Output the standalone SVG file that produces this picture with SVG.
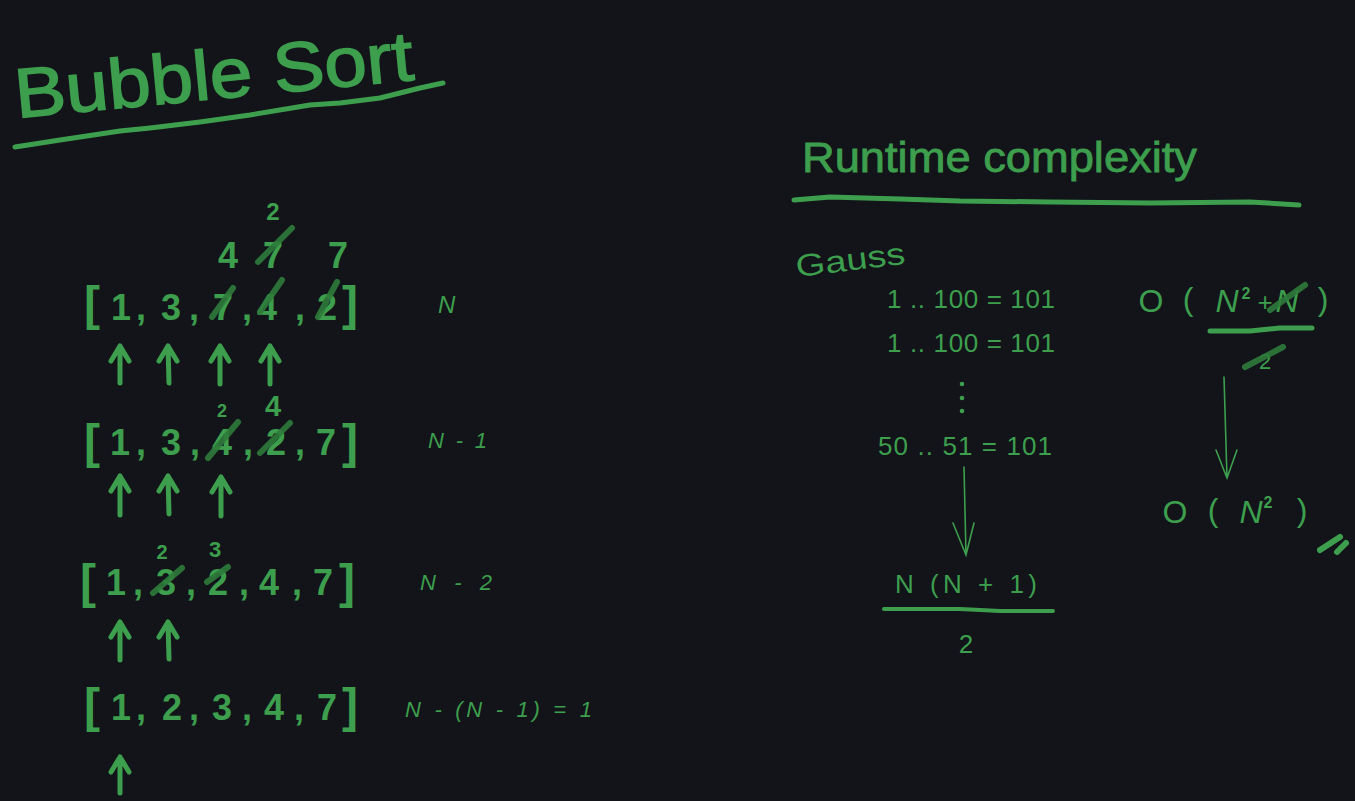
<svg xmlns="http://www.w3.org/2000/svg" width="1355" height="801" viewBox="0 0 1355 801">
<style>
.t{fill:#3d9f4d;font-family:"Liberation Sans",Arial,sans-serif}
.b{font-weight:bold}
.d{font-size:36px;font-weight:bold;text-anchor:middle}
.br{font-size:48px;font-weight:bold;text-anchor:middle}
.m{text-anchor:middle}
.s{stroke:#2d7a3b;stroke-width:6;stroke-linecap:round;fill:none;opacity:0.9}
.ln{stroke:#3d9f4d;fill:none;stroke-linecap:round;stroke-linejoin:round}
.ar{stroke:#3d9f4d;stroke-width:5;fill:none;stroke-linecap:round;stroke-linejoin:round}
.thin{stroke:#3d9f4d;stroke-width:1.6;fill:none;stroke-linecap:round}
</style>
<rect width="1355" height="801" fill="#121419"/>

<g id="title">
<text class="t" transform="translate(17,118) rotate(-5.5)" font-size="70" stroke="#3d9f4d" stroke-width="1.5" textLength="400" lengthAdjust="spacingAndGlyphs">Bubble Sort</text>
<polyline class="ln" stroke-width="5" points="15,147 60,140 120,131 150,128 200,122 250,115 310,105 340,103 380,98 420,88 443,83"/>
</g>

<g id="runtime-title">
<text class="t" x="802" y="172" font-size="42" stroke="#3d9f4d" stroke-width="0.8" textLength="395" lengthAdjust="spacingAndGlyphs">Runtime complexity</text>
<polyline class="ln" stroke-width="5" points="794,200 830,197 900,199 960,201 1050,202 1150,203 1250,202 1299,205"/>
</g>

<g id="row1">
<text class="t d" x="228" y="268">4</text>
<text class="t d" x="273" y="268">7</text>
<text class="t b m" x="273" y="220" font-size="24">2</text>
<text class="t d" x="338" y="268">7</text>
<line class="s" x1="258" y1="262" x2="292" y2="228"/>
<text class="t br" x="92" y="320">[</text>
<text class="t d" x="121" y="320">1</text>
<text class="t d" x="141" y="320">,</text>
<text class="t d" x="171" y="320">3</text>
<text class="t d" x="194" y="320">,</text>
<text class="t d" x="223" y="320">7</text>
<text class="t d" x="247" y="320">,</text>
<text class="t d" x="267" y="320">4</text>
<text class="t d" x="300" y="320">,</text>
<text class="t d" x="327" y="320">2</text>
<text class="t br" x="350" y="320">]</text>
<line class="s" x1="212" y1="317" x2="233" y2="288"/>
<line class="s" x1="260" y1="312" x2="282" y2="280"/>
<line class="s" x1="318" y1="317" x2="337" y2="282"/>
<text class="t" x="438" y="313" font-size="24" font-style="italic">N</text>
</g>

<g id="row2">
<text class="t b m" x="222" y="417" font-size="18">2</text>
<text class="t b m" x="273" y="416" font-size="29">4</text>
<text class="t br" x="92" y="458">[</text>
<text class="t d" x="120" y="455">1</text>
<text class="t d" x="141" y="455">,</text>
<text class="t d" x="171" y="455">3</text>
<text class="t d" x="195" y="455">,</text>
<text class="t d" x="222" y="455">4</text>
<text class="t d" x="248" y="455">,</text>
<text class="t d" x="276" y="455">2</text>
<text class="t d" x="300" y="455">,</text>
<text class="t d" x="326" y="455">7</text>
<text class="t br" x="350" y="458">]</text>
<line class="s" x1="208" y1="458" x2="238" y2="422"/>
<line class="s" x1="260" y1="453" x2="290" y2="423"/>
<text class="t" x="428" y="448" font-size="22" font-style="italic" textLength="59" lengthAdjust="spacing">N - 1</text>
</g>

<g id="row3">
<text class="t b m" x="162" y="559" font-size="20">2</text>
<text class="t b m" x="215" y="557" font-size="22">3</text>
<text class="t br" x="88" y="598">[</text>
<text class="t d" x="116" y="595">1</text>
<text class="t d" x="138" y="595">,</text>
<text class="t d" x="166" y="595">3</text>
<text class="t d" x="191" y="595">,</text>
<text class="t d" x="218" y="595">2</text>
<text class="t d" x="244" y="595">,</text>
<text class="t d" x="269" y="595">4</text>
<text class="t d" x="297" y="595">,</text>
<text class="t d" x="323" y="595">7</text>
<text class="t br" x="347" y="598">]</text>
<line class="s" x1="153" y1="593" x2="182" y2="568"/>
<line class="s" x1="207" y1="582" x2="228" y2="567"/>
<text class="t" x="420" y="590" font-size="22" font-style="italic" textLength="72" lengthAdjust="spacing">N - 2</text>
</g>

<g id="row4">
<text class="t br" x="92" y="722">[</text>
<text class="t d" x="121" y="720">1</text>
<text class="t d" x="141" y="720">,</text>
<text class="t d" x="172" y="720">2</text>
<text class="t d" x="194" y="720">,</text>
<text class="t d" x="222" y="720">3</text>
<text class="t d" x="247" y="720">,</text>
<text class="t d" x="274" y="720">4</text>
<text class="t d" x="299" y="720">,</text>
<text class="t d" x="327" y="720">7</text>
<text class="t br" x="350" y="722">]</text>
<text class="t" x="405" y="717" font-size="22" font-style="italic" textLength="187" lengthAdjust="spacing">N - (N - 1) = 1</text>
</g>

<g id="gauss">
<text class="t" transform="translate(797,277) rotate(-7)" font-size="31" textLength="110" lengthAdjust="spacingAndGlyphs">Gauss</text>
<text class="t" x="887" y="308" font-size="26" textLength="168" lengthAdjust="spacing">1 .. 100 = 101</text>
<text class="t" x="887" y="352" font-size="26" textLength="168" lengthAdjust="spacing">1 .. 100 = 101</text>
<circle cx="962" cy="384" r="2.3" fill="#3d9f4d"/>
<circle cx="962" cy="398" r="2.3" fill="#3d9f4d"/>
<circle cx="962" cy="411" r="2.3" fill="#3d9f4d"/>
<text class="t" x="878" y="455" font-size="26" textLength="174" lengthAdjust="spacing">50 .. 51 = 101</text>
</g>

<g id="gauss-formula">
<text class="t" x="895" y="593" font-size="26" textLength="142" lengthAdjust="spacing">N (N + 1)</text>
<polyline class="ln" stroke-width="4" points="884,609 960,609 1000,611 1053,611"/>
<text class="t m" x="966" y="653" font-size="26">2</text>
</g>

<g id="big-o-1">
<text class="t m" x="1151" y="312" font-size="32">O</text>
<text class="t m" x="1188" y="310" font-size="32">(</text>
<text class="t m" x="1227" y="312" font-size="32" font-style="italic">N</text>
<text class="t b m" x="1246" y="299" font-size="16">2</text>
<text class="t m" x="1265" y="311" font-size="26">+</text>
<text class="t m" x="1287" y="312" font-size="32" font-style="italic">N</text>
<line class="s" x1="1270" y1="310" x2="1305" y2="285"/>
<text class="t m" x="1323" y="310" font-size="32">)</text>
<polyline class="ln" stroke-width="5" points="1210,331 1250,331 1280,328 1312,328"/>
<text class="t m" x="1265" y="369" font-size="22">2</text>
<line class="s" x1="1245" y1="367" x2="1283" y2="347"/>
</g>

<g id="big-o-2">
<text class="t m" x="1175" y="523" font-size="32">O</text>
<text class="t m" x="1213" y="521" font-size="32">(</text>
<text class="t m" x="1251" y="523" font-size="32" font-style="italic">N</text>
<text class="t b m" x="1268" y="508" font-size="16">2</text>
<text class="t m" x="1302" y="521" font-size="32">)</text>
<line class="ln" stroke-width="6" x1="1320" y1="550" x2="1340" y2="537"/>
<line class="ln" stroke-width="6" x1="1337" y1="552" x2="1346" y2="543"/>
</g>

<g id="connectors">
<path class="ar" d="M120,383 L120,346 M111,361 L120,346 L129,361"/>
<path class="ar" d="M169,383 L168,346 M159,361 L168,346 L177,361"/>
<path class="ar" d="M220,384 L220,346 M211,361 L220,346 L229,361"/>
<path class="ar" d="M270,384 L270,346 M261,361 L270,346 L279,361"/>
<path class="ar" d="M120,515 L120,476 M111,491 L120,476 L129,491"/>
<path class="ar" d="M169,514 L168,476 M159,491 L168,476 L177,491"/>
<path class="ar" d="M221,516 L221,477 M212,492 L221,477 L230,492"/>
<path class="ar" d="M120,660 L120,622 M111,637 L120,622 L129,637"/>
<path class="ar" d="M169,659 L168,622 M159,637 L168,622 L177,637"/>
<path class="ar" d="M120,793 L120,757 M111,772 L120,757 L129,772"/>
<path class="thin" d="M964,467 L966,555 M953,523 L966,555 L974,523"/>
<path class="thin" d="M1224,377 L1227,478 M1216,450 L1227,478 L1237,450"/>
</g>
</svg>
